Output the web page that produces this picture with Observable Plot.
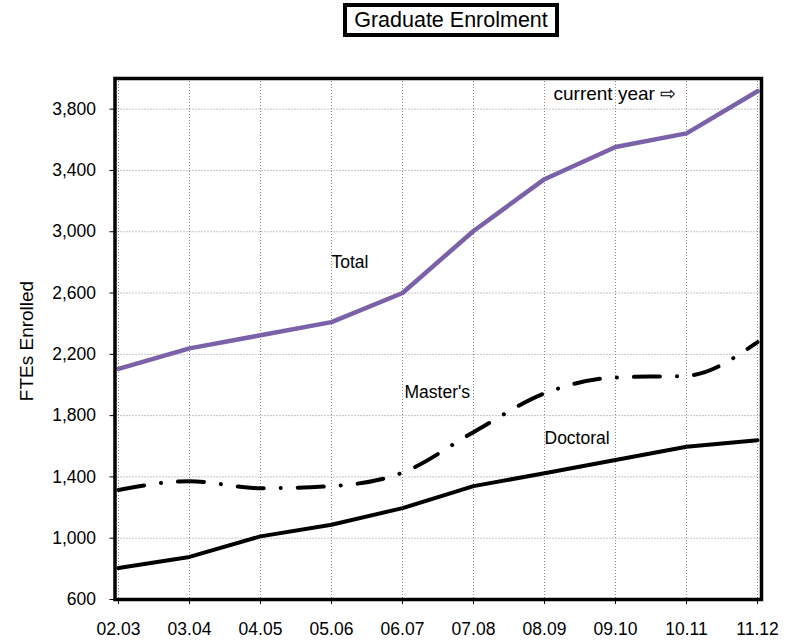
<!DOCTYPE html>
<html>
<head>
<meta charset="utf-8">
<script src="https://cdn.jsdelivr.net/npm/d3@7"></script>
<script src="https://cdn.jsdelivr.net/npm/@observablehq/plot@0.6"></script>
<style>
  html, body { margin: 0; padding: 0; background: white; }
  #wrap { width: 804px; }
  #titlebar { position: relative; height: 40px; }
  #title {
    position: absolute; left: 343px; top: 3px; width: 216px; height: 34px;
    box-sizing: border-box; border: 4px solid black;
    font-family: "Liberation Sans", Arial, sans-serif; font-size: 21.5px;
    line-height: 26px; text-align: center; color: black;
  }
</style>
</head>
<body>
<div id="wrap">
  <div id="titlebar"><div id="title">Graduate Enrolment</div></div>
  <div id="chart"></div>
</div>
<script>
const years = ["02.03","03.04","04.05","05.06","06.07","07.08","08.09","09.10","10.11","11.12"];
const total = [2105, 2239, 2324, 2410, 2600, 3005, 3343, 3553, 3642, 3917];
const masters = [1315, 1372, 1326, 1340, 1428, 1692, 1945, 2049, 2060, 2280];
const doctoral = [805, 878, 1012, 1088, 1196, 1340, 1424, 1510, 1597, 1640];
const yTicks = [600, 1000, 1400, 1800, 2200, 2600, 3000, 3400, 3800];
const noteCurrent = {text: "current year \u21E8", year: "08.09", value: 3900};
const noteTotal = {text: "Total", year: "05.06", value: 2800};
const noteMasters = {text: "Master's", year: "06.07", value: 1950};
const noteDoctoral = {text: "Doctoral", year: "08.09", value: 1650};
const yLabel = "FTEs Enrolled";

const rows = years.map((y, i) => ({year: y, total: total[i], masters: masters[i], doctoral: doctoral[i]}));
const note = (d, dx, fontSize) => Plot.text([d], {x: "year", y: "value", text: "text", dx, textAnchor: "start", fontSize, fill: "black"});

const chart = Plot.plot({
  width: 804,
  height: 600,
  marginLeft: 114.5,
  marginRight: 43,
  marginTop: 38,
  marginBottom: 41,
  style: {fontFamily: "'Liberation Sans', Arial, sans-serif", fontSize: "17.5px", color: "black", background: "white", overflow: "visible"},
  x: {type: "point", domain: years, padding: 0},
  y: {domain: [600, 4000]},
  marks: [
    Plot.gridX(years, {stroke: "#8a8a8a", strokeOpacity: 1, strokeDasharray: "1,2"}),
    Plot.gridY(yTicks, {stroke: "#8a8a8a", strokeOpacity: 1, strokeDasharray: "1,2"}),
    Plot.axisY(yTicks, {tickFormat: d3.format(","), tickSize: 5, tickPadding: 14, label: null, fontSize: 17.5}),
    Plot.axisX(years, {tickSize: 5, tickPadding: 18, label: null, fontSize: 17.5}),
    Plot.lineY(rows, {x: "year", y: "total", stroke: "#7b62a8", strokeWidth: 4.5, strokeLinejoin: "round", curve: "linear"}),
    Plot.lineY(rows, {x: "year", y: "masters", stroke: "black", strokeWidth: 4, strokeDasharray: "26,17,0.1,17", strokeLinecap: "round", curve: "monotone-x"}),
    Plot.lineY(rows, {x: "year", y: "doctoral", stroke: "black", strokeWidth: 4, strokeLinejoin: "round", curve: "linear"}),
    note(noteCurrent, 9, 19),
    note(noteTotal, 0, 17.5),
    note(noteMasters, 2, 17.5),
    note(noteDoctoral, 0, 17.5),
    Plot.text([yLabel], {text: d => d, frameAnchor: "left", textAnchor: "middle", dx: -88, dy: 2, rotate: -90, fontSize: 19, fill: "black"}),
    Plot.frame({stroke: "black", strokeWidth: 3.5})
  ]
});
document.getElementById("chart").appendChild(chart);
</script>
</body>
</html>
